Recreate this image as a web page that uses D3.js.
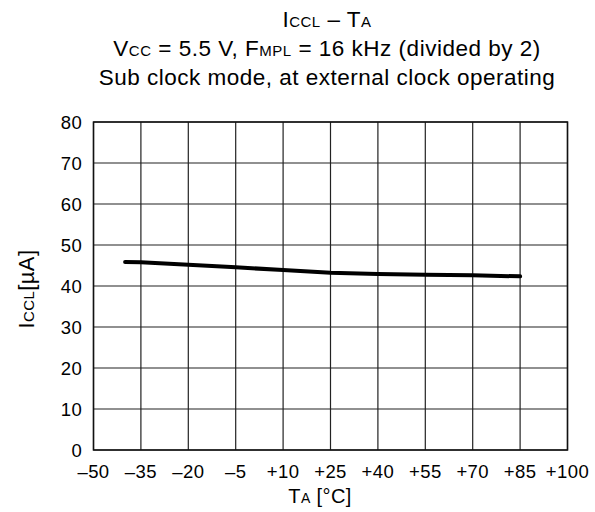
<!DOCTYPE html>
<html>
<head>
<meta charset="utf-8">
<script src="https://cdn.jsdelivr.net/npm/d3@7"></script>
<style>
  body { margin: 0; background: #fff; }
  svg { font-family: "Liberation Sans", Arial, sans-serif; }
</style>
</head>
<body>
<div id="d3"></div>
<script>
const temps = [-40, -35, -20, -5, 10, 25, 40, 55, 70, 85];
const iccl = [45.85, 45.8, 45.2, 44.55, 43.9, 43.25, 42.9, 42.75, 42.6, 42.35];
const xTicks = [-50, -35, -20, -5, 10, 25, 40, 55, 70, 85, 100];
const yTicks = [0, 10, 20, 30, 40, 50, 60, 70, 80];

const width = 595;
const height = 512;
const plot = { left: 93.5, right: 567.5, top: 122, bottom: 450 };

const svg = d3
  .select("#d3")
  .append("svg")
  .attr("width", width)
  .attr("height", height);

const x = d3.scaleLinear().domain([-50, 100]).range([plot.left, plot.right]);
const y = d3.scaleLinear().domain([0, 80]).range([plot.bottom, plot.top]);

// grid
svg
  .append("g")
  .selectAll("line")
  .data(xTicks)
  .join("line")
  .attr("x1", (d) => x(d))
  .attr("x2", (d) => x(d))
  .attr("y1", plot.top)
  .attr("y2", plot.bottom)
  .attr("stroke", "#222")
  .attr("stroke-width", 1.2);

svg
  .append("g")
  .selectAll("line")
  .data(yTicks)
  .join("line")
  .attr("x1", plot.left)
  .attr("x2", plot.right)
  .attr("y1", (d) => y(d))
  .attr("y2", (d) => y(d))
  .attr("stroke", "#222")
  .attr("stroke-width", 1.2);

svg
  .append("rect")
  .attr("x", plot.left)
  .attr("y", plot.top)
  .attr("width", plot.right - plot.left)
  .attr("height", plot.bottom - plot.top)
  .attr("fill", "none")
  .attr("stroke", "#111")
  .attr("stroke-width", 1.5);

// tick labels
const fmtX = (d) => (d < 0 ? "\u2013" + Math.abs(d) : d === 0 ? "0" : "+" + d);

svg
  .append("g")
  .style("font-size", "18.5px")
  .style("letter-spacing", "0.4px")
  .attr("text-anchor", "middle")
  .selectAll("text")
  .data(xTicks)
  .join("text")
  .attr("x", (d) => x(d))
  .attr("y", 478)
  .text(fmtX);

svg
  .append("g")
  .style("font-size", "18.5px")
  .style("letter-spacing", "0.3px")
  .attr("text-anchor", "end")
  .selectAll("text")
  .data(yTicks)
  .join("text")
  .attr("x", 82)
  .attr("y", (d) => y(d) + 6.5)
  .text((d) => d);

// data line
const line = d3
  .line()
  .x((d, i) => x(temps[i]))
  .y((d) => y(d));

svg
  .append("path")
  .datum(iccl)
  .attr("d", line)
  .attr("fill", "none")
  .attr("stroke", "#000")
  .attr("stroke-width", 4)
  .attr("stroke-linecap", "round");

// titles
function addText(parent, parts, attrs, smallSize) {
  const t = parent.append("text");
  Object.entries(attrs).forEach(([k, v]) => t.attr(k, v));
  parts.forEach(([s, small]) => {
    t.append("tspan").style("font-size", small ? smallSize : null).text(s);
  });
  return t;
}

const titles = svg
  .append("g")
  .style("font-size", "22.5px")
  .style("letter-spacing", "0.5px")
  .attr("text-anchor", "middle");
addText(titles, [["I"], ["CCL", true], [" \u2013 T"], ["A", true]], { x: 327, y: 27 }, "15px");
addText(
  titles,
  [["V"], ["CC", true], [" = 5.5 V, F"], ["MPL", true], [" = 16 kHz (divided by 2)"]],
  { x: 327, y: 56 },
  "15px"
);
addText(titles, [["Sub clock mode, at external clock operating"]], { x: 327, y: 85 }, "15px");

const xl = svg
  .append("g")
  .style("font-size", "20px")
  .style("letter-spacing", "0.4px")
  .attr("text-anchor", "middle");
addText(xl, [["T"], ["A", true], [" [\u00b0C]"]], { x: 320, y: 503 }, "14px");

const yl = svg
  .append("g")
  .style("font-size", "22px")
  .style("letter-spacing", "0.4px")
  .attr("text-anchor", "middle")
  .attr("transform", "translate(34,289) rotate(-90)");
addText(yl, [["I"], ["CCL", true], ["[\u00b5A]"]], { x: 0, y: 0 }, "15px");
</script>
</body>
</html>
